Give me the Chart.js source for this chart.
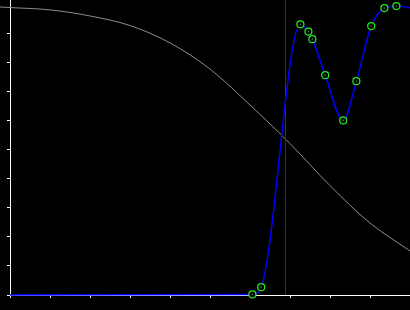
<!DOCTYPE html>
<html lang="en">
<head>
  <meta charset="UTF-8">
  <title>fit</title>
  <script src="https://cdn.jsdelivr.net/npm/chart.js"></script>
  <style>
    html, body { margin: 0; padding: 0; background: #000; }
    #wrap { width: 410px; height: 310px; }
  </style>
</head>
<body>
  <div id="wrap"><canvas id="plot"></canvas></div>

  <script>
    // grey reference curve (goes a bit past the left axis)
    const curveX = [-0.25, 0, 1, 2, 3, 4, 5, 6, 7, 8, 9, 10];
    const curveY = [9.93, 9.91, 9.83, 9.62, 9.29, 8.69, 7.79, 6.55, 5.22, 3.77, 2.48, 1.52];

    // blue fitted line, markers only on the measured samples
    const fitX = [0, 6.06, 6.28, 7.26, 7.46, 7.56, 7.88, 8.33, 8.66, 9.03, 9.36, 9.66, 10];
    const fitY = [0, 0.02, 0.27, 9.33, 9.08, 8.82, 7.58, 6.02, 7.37, 9.27, 9.89, 9.96, 9.9];
    const measured = [false, true, true, true, true, true, true, true, true, true, true, true, false];

    // vertical marker
    const markerX = 6.8875;

    const xMin = 0, xMax = 10, yMin = 0, yMax = 10.17;
    const yTickValues = [0, 1, 2, 3, 4, 5, 6, 7, 8, 9];

    const toPts = (xs, ys) => xs.map((x, i) => ({ x: x, y: ys[i] }));
    const fitPts = toPts(fitX, fitY);
    const samplePts = fitPts.filter((p, i) => measured[i]);

    new Chart(document.getElementById('plot').getContext('2d'), {
      type: 'line',
      data: {
        datasets: [
          {
            data: samplePts,
            showLine: false,
            pointRadius: 0.8,
            pointBorderWidth: 0,
            pointBackgroundColor: '#1a8a1a',
            clip: false,
            order: 0
          },
          {
            data: fitPts,
            borderColor: '#0000ff',
            borderWidth: 1.5,
            cubicInterpolationMode: 'monotone',
            pointRadius: measured.map(m => m ? 3.5 : 0),
            pointBorderColor: '#22ee22',
            pointBorderWidth: 1.2,
            pointBackgroundColor: '#000',
            clip: false,
            order: 1
          },
          {
            data: [{ x: markerX, y: yMin }, { x: markerX, y: yMax }],
            borderColor: '#800080',
            borderWidth: 1,
            pointRadius: 0,
            order: 2
          },
          {
            data: toPts(curveX, curveY),
            borderColor: '#8c8c8c',
            borderWidth: 1,
            cubicInterpolationMode: 'monotone',
            pointRadius: 0,
            clip: false,
            order: 3
          }
        ]
      },
      options: {
        responsive: true,
        maintainAspectRatio: false,
        animation: false,
        layout: { padding: 0, autoPadding: false },
        plugins: { legend: { display: false }, tooltip: { enabled: false } },
        scales: {
          x: {
            type: 'linear',
            min: xMin,
            max: xMax,
            ticks: { display: false, stepSize: 1 },
            grid: { drawOnChartArea: false, drawTicks: true, tickLength: 3, color: '#fff' },
            border: { color: '#fff', width: 1 },
            afterFit: s => { s.height = 15; }
          },
          y: {
            min: yMin,
            max: yMax,
            ticks: { display: false },
            afterBuildTicks: s => { s.ticks = yTickValues.map(v => ({ value: v })); },
            grid: { drawOnChartArea: false, drawTicks: true, tickLength: 3, color: '#fff' },
            border: { color: '#fff', width: 1 },
            afterFit: s => { s.width = 10; }
          }
        }
      }
    });
  </script>
</body>
</html>
